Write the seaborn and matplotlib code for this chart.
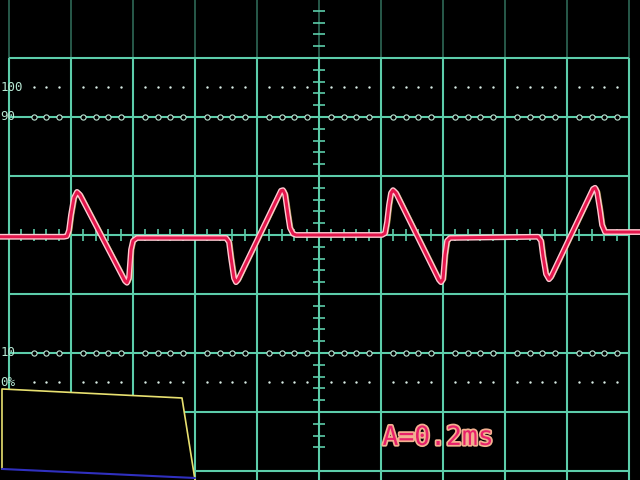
import numpy as np
import pandas as pd
import matplotlib.pyplot as plt
import matplotlib.patheffects as pe
from matplotlib.patches import Polygon
import seaborn as sns

# trace, in divisions (time across, volts up)
t_div = [-5.145, -4.113, -4.065, -4.032, -4.0, -3.952, -3.903, -3.855,
         -3.129, -3.097, -3.065, -3.032, -3.0, -2.935,
         -1.5, -1.452, -1.419, -1.371, -1.339, -1.306,
         -0.613, -0.581, -0.548, -0.5, -0.468, -0.419, -0.371,
         1.016, 1.065, 1.097, 1.129, 1.161, 1.194, 1.242,
         1.935, 1.968, 2.0, 2.032, 2.065, 2.113,
         3.532, 3.581, 3.613, 3.661, 3.710, 3.742,
         4.419, 4.452, 4.484, 4.532, 4.565, 4.613, 5.177]
v_div = [-0.03, -0.03, -0.02, 0.08, 0.34, 0.63, 0.73, 0.68,
         -0.78, -0.81, -0.73, -0.25, -0.10, -0.05,
         -0.05, -0.12, -0.39, -0.73, -0.80, -0.76,
         0.75, 0.76, 0.69, 0.34, 0.12, 0.02, 0.0,
         0.0, 0.03, 0.22, 0.51, 0.71, 0.76, 0.71,
         -0.76, -0.80, -0.75, -0.34, -0.10, -0.05,
         -0.03, -0.10, -0.36, -0.66, -0.75, -0.71,
         0.78, 0.80, 0.73, 0.42, 0.17, 0.05, 0.05]

# graticule
x_major = list(range(-5, 6))
y_major = list(range(-4, 5))
level_values = [2.5, 2.0, -2.0, -2.5]
level_labels = ['100', '90', '10', '0%']
readout = 'A=0.2ms'

# the bit of paper covering the lower left corner
sheet_x = [-5.145, -2.210, -2.0, -5.145]
sheet_y = [-2.61, -2.763, -4.153, -4.153]

grid_col = '#5ccdaa'
trace = pd.DataFrame({'t': t_div, 'v': v_div})

sns.set_theme(style='dark', rc={'axes.facecolor': 'black',
                                'figure.facecolor': 'black'})

fig = plt.figure(figsize=(6.4, 4.8), dpi=100)
ax = fig.add_axes([0, 0, 1, 1])

# main grid (dimmer above the top division, like the screen)
ax.vlines(x_major, -4.153, 3.0, color=grid_col, lw=1.5, zorder=1)
ax.vlines(x_major, 3.0, 3.983, color=grid_col, lw=1.1, alpha=0.55, zorder=1)
ax.hlines(y_major, -5, 5, color=grid_col, lw=1.5, zorder=1)

# minor ticks on the centre cross
minor = [m for m in np.round(np.arange(-5, 5.01, 0.2), 2) if m != round(m)]
ax.vlines(minor, -0.1, 0.1, color=grid_col, lw=1.2, zorder=1)
minor_v = [m for m in np.round(np.arange(-3.6, 4.01, 0.2), 2) if m != round(m)]
ax.hlines(minor_v, -0.1, 0.1, color=grid_col, lw=1.2, zorder=1)

# rise-time markers: dots on 100/0 %, rings on the 90/10 % lines
dots = minor[1:]
for lv in level_values:
    if abs(lv) == 2.5:
        ax.scatter(dots, [lv] * len(dots), s=3, color='#d8ece4', lw=0, zorder=2)
    else:
        ax.scatter(dots, [lv] * len(dots), s=14, facecolor='black',
                   edgecolor='#bfe6d6', lw=0.8, zorder=2)
for lv, lab in zip(level_values, level_labels):
    ax.text(-5.14, lv, lab, color='#b8e8d4', fontsize=9,
            family='DejaVu Sans Mono', ha='left', va='center', zorder=3)

# paper overlay
ax.add_patch(Polygon(list(zip(sheet_x, sheet_y)), closed=True,
                     facecolor='black', edgecolor='none', zorder=4))
ax.plot([-5.113, -5.113, -2.210, -2.0], [-3.966, -2.61, -2.763, -4.153],
        color='#e8e070', lw=1.2, zorder=5)
ax.plot([-5.113, -2.0], [-3.966, -4.119], color='#3030c0', lw=1.5, zorder=5)

# the trace: faint olive ghost, pale glow, red core
ghost = trace.assign(t=trace['t'] + 0.04)
sns.lineplot(data=ghost, x='t', y='v', sort=False, estimator=None,
             color='#a89a38', lw=1.4, alpha=0.8, ax=ax, zorder=6)
sns.lineplot(data=trace, x='t', y='v', sort=False, estimator=None,
             color='#ffc8d0', lw=4.2, ax=ax, zorder=7)
sns.lineplot(data=trace, x='t', y='v', sort=False, estimator=None,
             color='#e3164c', lw=2.2, ax=ax, zorder=8)

ax.set_xlim(-5.145, 5.177)
ax.set_ylim(-4.153, 3.983)
ax.set_axis_off()

ax.text(1.92, -3.44, readout, color='#e8206a', fontsize=19,
        family='DejaVu Sans Mono', ha='center', va='center', zorder=9,
        path_effects=[pe.withStroke(linewidth=2.5, foreground='#f2b090')])

fig.savefig('out.png', dpi=100, facecolor='black')
